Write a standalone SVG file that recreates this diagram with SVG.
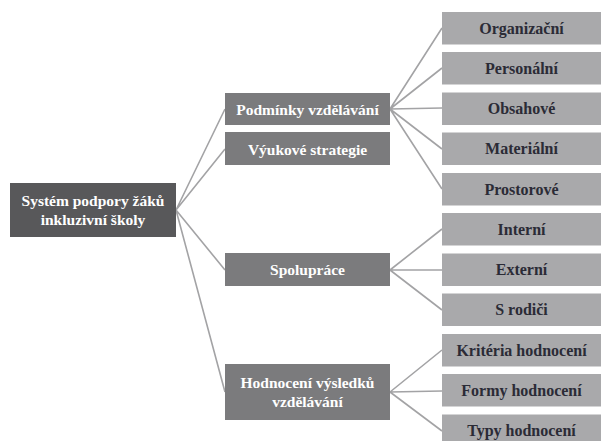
<svg xmlns="http://www.w3.org/2000/svg" width="601" height="441" viewBox="0 0 601 441">
<style>
.root{fill:#58585a}
.mid{fill:#7b7b7d}
.leaf{fill:#a9a9ab}
text{font-family:"Liberation Serif","DejaVu Serif",serif;font-weight:bold;font-size:15.5px;text-anchor:middle}
.lt{fill:#ffffff}
.dt{fill:#2b2b36;font-size:16px}
.c{stroke:#a3a3a5;stroke-width:1.6;fill:none}
</style>
<rect width="601" height="441" fill="#ffffff"/>
<g id="connectors">
<path class="c" d="M176 210 L225 109 M176 210 L225 149 M176 210 L225 270 M176 210 L225 392"/>
<path class="c" d="M390 109 L442 28 M390 109 L442 68 M390 109 L442 108 M390 109 L442 149 M390 109 L442 189"/>
<path class="c" d="M390 270 L442 229 M390 270 L442 270 M390 270 L442 310"/>
<path class="c" d="M390 392 L442 350 M390 392 L442 391 M390 392 L442 431"/>
</g>
<g id="root"><rect class="root" x="10" y="183" width="166" height="54"/><text class="lt" x="93" y="205.5">Systém podpory žáků</text><text class="lt" x="93" y="224.5">inkluzivní školy</text></g>
<g id="podminky"><rect class="mid" x="225" y="93" width="165" height="32"/><text class="lt" x="307.5" y="114.5">Podmínky vzdělávání</text></g>
<g id="vyukove"><rect class="mid" x="225" y="132" width="165" height="33"/><text class="lt" x="307.5" y="154.5">Výukové strategie</text></g>
<g id="spoluprace"><rect class="mid" x="225" y="253" width="165" height="33"/><text class="lt" x="307.5" y="275">Spolupráce</text></g>
<g id="hodnoceni"><rect class="mid" x="225" y="364" width="165" height="56"/><text class="lt" x="307.5" y="388">Hodnocení výsledků</text><text class="lt" x="307.5" y="406.5">vzdělávání</text></g>
<g id="organizacni"><rect class="leaf" x="442" y="12" width="159" height="32.5"/><text class="dt" x="521.5" y="33.5">Organizační</text></g>
<g id="personalni"><rect class="leaf" x="442" y="52" width="159" height="32.5"/><text class="dt" x="521.5" y="73.5">Personální</text></g>
<g id="obsahove"><rect class="leaf" x="442" y="92.5" width="159" height="32.5"/><text class="dt" x="521.5" y="114">Obsahové</text></g>
<g id="materialni"><rect class="leaf" x="442" y="132.5" width="159" height="32.5"/><text class="dt" x="521.5" y="154">Materiální</text></g>
<g id="prostorove"><rect class="leaf" x="442" y="173" width="159" height="32.5"/><text class="dt" x="521.5" y="194.5">Prostorové</text></g>
<g id="interni"><rect class="leaf" x="442" y="213" width="159" height="32.5"/><text class="dt" x="521.5" y="234.5">Interní</text></g>
<g id="externi"><rect class="leaf" x="442" y="253.5" width="159" height="32.5"/><text class="dt" x="521.5" y="275">Externí</text></g>
<g id="srodici"><rect class="leaf" x="442" y="293.5" width="159" height="32.5"/><text class="dt" x="521.5" y="315">S rodiči</text></g>
<g id="kriteria"><rect class="leaf" x="442" y="334" width="159" height="32.5"/><text class="dt" x="521.5" y="355.5">Kritéria hodnocení</text></g>
<g id="formy"><rect class="leaf" x="442" y="374" width="159" height="32.5"/><text class="dt" x="521.5" y="395.5">Formy hodnocení</text></g>
<g id="typy"><rect class="leaf" x="442" y="414.5" width="159" height="32.5"/><text class="dt" x="521.5" y="436">Typy hodnocení</text></g>
</svg>
